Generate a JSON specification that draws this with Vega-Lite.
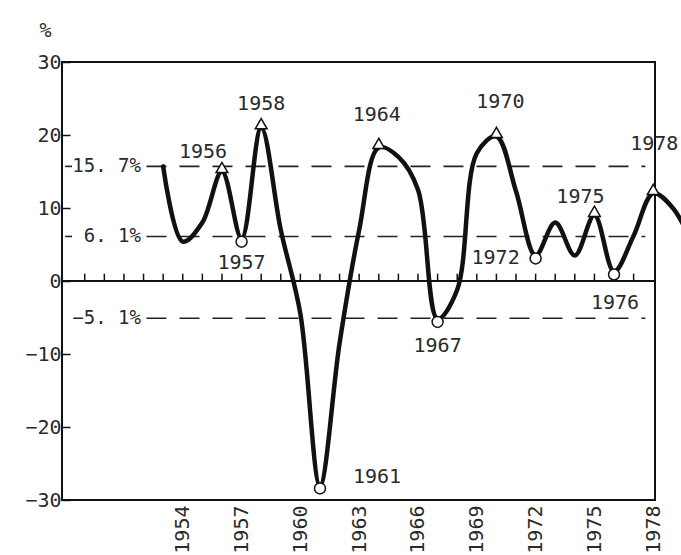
{
  "$schema": "https://vega.github.io/schema/vega-lite/v6.json",
  "width": 593,
  "height": 438,
  "autosize": {"type": "none"},
  "padding": {"left": 62, "top": 62, "right": 26, "bottom": 55},
  "background": "white",
  "config": {
    "view": {"stroke": "#111", "strokeWidth": 2},
    "font": "DejaVu Sans Mono",
    "axis": {"labelFont": "DejaVu Sans Mono", "titleFont": "DejaVu Sans Mono", "labelColor": "#2a2a2a", "titleColor": "#2a2a2a", "grid": false, "domain": false},
    "text": {"font": "DejaVu Sans Mono", "fontSize": 20, "fill": "#2a2a2a", "align": "center", "baseline": "middle"}
  },
  "datasets": {
    "growth": [
      {"year": 1953, "value": 15.7},
      {"year": 1954, "value": 5.4},
      {"year": 1955, "value": 8.0},
      {"year": 1956, "value": 15.0, "kind": "peak"},
      {"year": 1957, "value": 5.8, "kind": "trough"},
      {"year": 1958, "value": 21.0, "kind": "peak"},
      {"year": 1959, "value": 7.0},
      {"year": 1960, "value": -4.5},
      {"year": 1961, "value": -28.0, "kind": "trough"},
      {"year": 1962, "value": -8.5},
      {"year": 1963, "value": 7.0},
      {"year": 1964, "value": 18.3, "kind": "peak"},
      {"year": 1965, "value": 17.0},
      {"year": 1966, "value": 12.5},
      {"year": 1967, "value": -5.2, "kind": "trough"},
      {"year": 1968, "value": -1.2},
      {"year": 1969, "value": 17.5},
      {"year": 1970, "value": 19.8, "kind": "peak"},
      {"year": 1971, "value": 12.3},
      {"year": 1972, "value": 3.5, "kind": "trough"},
      {"year": 1973, "value": 8.0},
      {"year": 1974, "value": 3.5},
      {"year": 1975, "value": 9.0, "kind": "peak"},
      {"year": 1976, "value": 1.3, "kind": "trough"},
      {"year": 1977, "value": 6.2},
      {"year": 1978, "value": 12.0, "kind": "peak"},
      {"year": 1979, "value": 10.0},
      {"year": 1980, "value": 5.0}
    ],
    "levels": [
      {"level": 15.7, "label": "15. 7%"},
      {"level": 6.1, "label": "6. 1%"},
      {"level": -5.1, "label": "−5. 1%"}
    ],
    "yearTicks": [
      {"t": 1949}, {"t": 1950}, {"t": 1951}, {"t": 1952}, {"t": 1953}, {"t": 1954}, {"t": 1955}, {"t": 1956}, {"t": 1957}, {"t": 1958},
      {"t": 1959}, {"t": 1960}, {"t": 1961}, {"t": 1962}, {"t": 1963}, {"t": 1964}, {"t": 1965}, {"t": 1966}, {"t": 1967}, {"t": 1968},
      {"t": 1969}, {"t": 1970}, {"t": 1971}, {"t": 1972}, {"t": 1973}, {"t": 1974}, {"t": 1975}, {"t": 1976}, {"t": 1977}
    ]
  },
  "layer": [
    {
      "data": {"name": "levels"},
      "mark": {"type": "rule", "strokeDash": [20, 13], "strokeWidth": 1.6, "color": "#222"},
      "encoding": {
        "x": {"datum": 1952.15, "type": "quantitative", "scale": {"domain": [1947.84, 1978.09], "nice": false, "zero": false}},
        "x2": {"datum": 1977.6},
        "y": {"field": "level", "type": "quantitative", "scale": {"domain": [-30, 30], "nice": false}}
      }
    },
    {
      "data": {"name": "levels"},
      "transform": [{"filter": "datum.level > 0"}],
      "mark": {"type": "rule", "strokeWidth": 1.6, "color": "#222"},
      "encoding": {
        "x": {"datum": 1948.0, "type": "quantitative"},
        "x2": {"datum": 1948.35},
        "y": {"field": "level", "type": "quantitative"}
      }
    },
    {
      "data": {"name": "levels"},
      "mark": {"type": "text", "align": "right", "fontSize": 19},
      "encoding": {
        "x": {"datum": 1951.87, "type": "quantitative"},
        "y": {"field": "level", "type": "quantitative"},
        "text": {"field": "label", "type": "nominal"}
      }
    },
    {
      "data": {"values": [{}]},
      "mark": {"type": "rule", "strokeWidth": 2, "color": "#111"},
      "encoding": {
        "y": {"datum": 0, "type": "quantitative"}
      }
    },
    {
      "data": {"name": "yearTicks"},
      "mark": {"type": "rule", "strokeWidth": 1.5, "color": "#111"},
      "encoding": {
        "x": {"field": "t", "type": "quantitative"},
        "y": {"datum": 0, "type": "quantitative"},
        "y2": {"datum": 1.0}
      }
    },
    {
      "data": {"name": "growth"},
      "mark": {"type": "line", "interpolate": "catmull-rom", "strokeWidth": 4.5, "color": "#111", "strokeCap": "round", "strokeJoin": "round", "clip": false},
      "encoding": {
        "x": {
          "field": "year", "type": "quantitative",
          "scale": {"domain": [1947.84, 1978.09], "nice": false, "zero": false},
          "axis": {"values": [1954, 1957, 1960, 1963, 1966, 1969, 1972, 1975, 1978], "format": "d", "labelAngle": -90, "labelFontSize": 20, "labelPadding": 5, "ticks": false, "domain": false, "labelFlush": false, "labelOverlap": false, "title": null}
        },
        "y": {
          "field": "value", "type": "quantitative",
          "scale": {"domain": [-30, 30], "nice": false},
          "axis": {"values": [-30, -20, -10, 0, 10, 20, 30], "labelFontSize": 20, "tickSize": -8, "tickWidth": 1.5, "tickColor": "#111", "labelPadding": 9, "labelFlush": false, "labelOverlap": false, "title": "%", "titleAngle": 0, "titleX": -17, "titleY": -32, "titleFontSize": 20, "titleFontWeight": "normal", "titleAlign": "center", "titleBaseline": "middle"}
        }
      }
    },
    {
      "data": {"name": "growth"},
      "transform": [{"filter": "datum.kind === 'peak'"}],
      "mark": {"type": "point", "shape": "triangle-up", "size": 140, "filled": true, "fill": "white", "stroke": "#111", "strokeWidth": 1.5, "opacity": 1, "yOffset": -4},
      "encoding": {
        "x": {"field": "year", "type": "quantitative"},
        "y": {"field": "value", "type": "quantitative"}
      }
    },
    {
      "data": {"name": "growth"},
      "transform": [{"filter": "datum.kind === 'trough'"}],
      "mark": {"type": "point", "shape": "circle", "size": 120, "filled": true, "fill": "white", "stroke": "#111", "strokeWidth": 1.5, "opacity": 1, "yOffset": 3},
      "encoding": {
        "x": {"field": "year", "type": "quantitative"},
        "y": {"field": "value", "type": "quantitative"}
      }
    },
    {"data": {"name": "growth"}, "transform": [{"filter": "datum.year === 1956"}], "mark": {"type": "text", "dx": -19, "dy": -20},
      "encoding": {"x": {"field": "year", "type": "quantitative"}, "y": {"field": "value", "type": "quantitative"}, "text": {"field": "year", "type": "nominal"}}},
    {"data": {"name": "growth"}, "transform": [{"filter": "datum.year === 1958"}], "mark": {"type": "text", "dx": 0, "dy": -24},
      "encoding": {"x": {"field": "year", "type": "quantitative"}, "y": {"field": "value", "type": "quantitative"}, "text": {"field": "year", "type": "nominal"}}},
    {"data": {"name": "growth"}, "transform": [{"filter": "datum.year === 1964"}], "mark": {"type": "text", "dx": -2, "dy": -32},
      "encoding": {"x": {"field": "year", "type": "quantitative"}, "y": {"field": "value", "type": "quantitative"}, "text": {"field": "year", "type": "nominal"}}},
    {"data": {"name": "growth"}, "transform": [{"filter": "datum.year === 1970"}], "mark": {"type": "text", "dx": 4, "dy": -34},
      "encoding": {"x": {"field": "year", "type": "quantitative"}, "y": {"field": "value", "type": "quantitative"}, "text": {"field": "year", "type": "nominal"}}},
    {"data": {"name": "growth"}, "transform": [{"filter": "datum.year === 1975"}], "mark": {"type": "text", "dx": -14, "dy": -18},
      "encoding": {"x": {"field": "year", "type": "quantitative"}, "y": {"field": "value", "type": "quantitative"}, "text": {"field": "year", "type": "nominal"}}},
    {"data": {"name": "growth"}, "transform": [{"filter": "datum.year === 1978"}], "mark": {"type": "text", "dx": 1, "dy": -49},
      "encoding": {"x": {"field": "year", "type": "quantitative"}, "y": {"field": "value", "type": "quantitative"}, "text": {"field": "year", "type": "nominal"}}},
    {"data": {"name": "growth"}, "transform": [{"filter": "datum.year === 1957"}], "mark": {"type": "text", "dx": 0, "dy": 24},
      "encoding": {"x": {"field": "year", "type": "quantitative"}, "y": {"field": "value", "type": "quantitative"}, "text": {"field": "year", "type": "nominal"}}},
    {"data": {"name": "growth"}, "transform": [{"filter": "datum.year === 1967"}], "mark": {"type": "text", "dx": 0, "dy": 27},
      "encoding": {"x": {"field": "year", "type": "quantitative"}, "y": {"field": "value", "type": "quantitative"}, "text": {"field": "year", "type": "nominal"}}},
    {"data": {"name": "growth"}, "transform": [{"filter": "datum.year === 1976"}], "mark": {"type": "text", "dx": 1, "dy": 31},
      "encoding": {"x": {"field": "year", "type": "quantitative"}, "y": {"field": "value", "type": "quantitative"}, "text": {"field": "year", "type": "nominal"}}},
    {"data": {"name": "growth"}, "transform": [{"filter": "datum.year === 1972"}], "mark": {"type": "text", "dx": -40, "dy": 3},
      "encoding": {"x": {"field": "year", "type": "quantitative"}, "y": {"field": "value", "type": "quantitative"}, "text": {"field": "year", "type": "nominal"}}},
    {"data": {"name": "growth"}, "transform": [{"filter": "datum.year === 1961"}], "mark": {"type": "text", "dx": 57, "dy": -8},
      "encoding": {"x": {"field": "year", "type": "quantitative"}, "y": {"field": "value", "type": "quantitative"}, "text": {"field": "year", "type": "nominal"}}}
  ]
}
